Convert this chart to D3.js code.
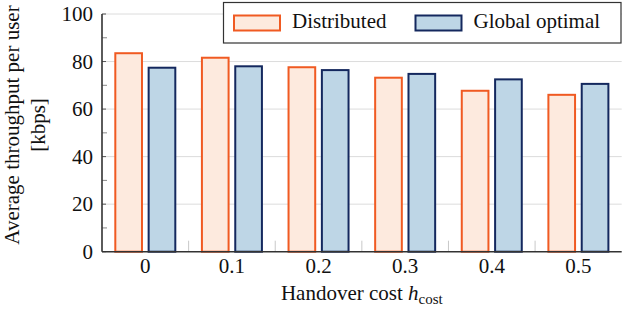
<!DOCTYPE html>
<html>
<head>
<meta charset="utf-8">
<script src="https://cdn.jsdelivr.net/npm/d3@7"></script>
</head>
<body style="margin:0; background:#fff">
<div id="graph"></div>
<script>
var categories = ["0", "0.1", "0.2", "0.3", "0.4", "0.5"],
	seriesNames = ["Distributed", "Global optimal"],
	distributed = [83.5, 81.6, 77.6, 73.2, 67.7, 66.0],
	globalOptimal = [77.4, 78.0, 76.4, 74.8, 72.5, 70.6],
	yTicks = [0, 20, 40, 60, 80, 100],
	yMinorTicks = [10, 30, 50, 70, 90];

var SVGwidth = 640,
	SVGheight = 326,
	margin = {top: 14, right: 18.3, bottom: 74.3, left: 102},
	width = SVGwidth - margin.left - margin.right,
	height = SVGheight - margin.top - margin.bottom;

var colors = {
	"Distributed": {fill: "#fdeade", stroke: "#f05a22"},
	"Global optimal": {fill: "#bed6e6", stroke: "#14285e"}
};

var svg = d3.select('div#graph')
	.append('svg')
	.attr('width', SVGwidth)
	.attr('height', SVGheight);

var g = svg.append("g")
	.attr("transform", "translate(" + margin.left + "," + margin.top + ")");

function label(sel) {
	return sel.attr("font-family", "Liberation Serif")
		.attr("font-size", 21)
		.attr("fill", "#111");
}

var x0 = d3.scaleBand()
		.domain(categories)
		.range([0, width])
		.padding(0),
	x1 = d3.scaleBand()
		.domain(seriesNames)
		.range([-31, 31])
		.paddingInner(0.14),
	y = d3.scaleLinear()
		.domain([0, 100])
		.range([height, 0]);

var rows = categories.map(function (c, i) {
	return {cat: c, values: [
		{name: seriesNames[0], value: distributed[i]},
		{name: seriesNames[1], value: globalOptimal[i]}
	]};
});

// grid
g.append("g")
	.selectAll("line")
	.data(yTicks.slice(1))
	.enter()
	.append("line")
	.attr("x1", 0)
	.attr("x2", width)
	.attr("y1", function (d) { return y(d); })
	.attr("y2", function (d) { return y(d); })
	.attr("stroke", "#dcdcdc")
	.attr("stroke-width", 1);

// minor x ticks between categories
g.append("g")
	.selectAll("line")
	.data(categories.slice(1))
	.enter()
	.append("line")
	.attr("x1", function (d) { return x0(d); })
	.attr("x2", function (d) { return x0(d); })
	.attr("y1", height)
	.attr("y2", height - 11)
	.attr("stroke", "#c8c8c8")
	.attr("stroke-width", 1);

// y ticks, inside
g.append("g")
	.selectAll("line")
	.data(yTicks.concat(yMinorTicks))
	.enter()
	.append("line")
	.attr("x1", 0)
	.attr("x2", function (d) { return d % 20 === 0 ? 4 : 5; })
	.attr("y1", function (d) { return y(d); })
	.attr("y2", function (d) { return y(d); })
	.attr("stroke", function (d) { return d % 20 === 0 ? "#555" : "#888"; })
	.attr("stroke-width", 1);

// bars
var groups = g.append("g")
	.selectAll("g")
	.data(rows)
	.enter()
	.append("g")
	.attr("transform", function (d) { return "translate(" + (x0(d.cat) + x0.bandwidth() / 2) + ",0)"; });

groups.selectAll("rect")
	.data(function (d) { return d.values; })
	.enter()
	.append("rect")
	.attr("x", function (d) { return x1(d.name) + 1; })
	.attr("width", x1.bandwidth() - 2)
	.attr("y", function (d) { return y(d.value); })
	.attr("height", function (d) { return y(0) - y(d.value); })
	.attr("fill", function (d) { return colors[d.name].fill; })
	.attr("stroke", function (d) { return colors[d.name].stroke; })
	.attr("stroke-width", 2);

// axis lines (left, bottom)
g.append("line")
	.attr("x1", 0).attr("x2", 0)
	.attr("y1", 0).attr("y2", height)
	.attr("stroke", "#333").attr("stroke-width", 1.6);
g.append("line")
	.attr("x1", 0).attr("x2", width)
	.attr("y1", height).attr("y2", height)
	.attr("stroke", "#333").attr("stroke-width", 1.6);

// tick labels
g.append("g")
	.selectAll("text")
	.data(yTicks)
	.enter()
	.append("text")
	.call(label)
	.attr("x", -9)
	.attr("y", function (d) { return y(d) + 7; })
	.attr("text-anchor", "end")
	.text(function (d) { return d; });

g.append("g")
	.selectAll("text")
	.data(categories)
	.enter()
	.append("text")
	.call(label)
	.attr("x", function (d) { return x0(d) + x0.bandwidth() / 2; })
	.attr("y", height + 21)
	.attr("text-anchor", "middle")
	.text(function (d) { return d; });

// axis labels
var xl = g.append("text")
	.call(label)
	.attr("x", width / 2)
	.attr("y", height + 48.5)
	.attr("text-anchor", "middle");
xl.append("tspan").text("Handover cost ");
xl.append("tspan").attr("font-style", "italic").text("h");
xl.append("tspan").attr("font-size", 15).attr("dy", 4).text("cost");

var yl = svg.append("text")
	.call(label)
	.attr("transform", "translate(0,125) rotate(-90)")
	.attr("text-anchor", "middle");
yl.append("tspan").attr("x", 0).attr("y", 19).text("Average throughput per user");
yl.append("tspan").attr("x", 0).attr("y", 45).text("[kbps]");

// legend
var legend = svg.append("g")
	.attr("transform", "translate(223.5,2.5)");
legend.append("rect")
	.attr("width", 397.5)
	.attr("height", 40.5)
	.attr("fill", "#fff")
	.attr("stroke", "#333")
	.attr("stroke-width", 1.2);

var legendX = [9.5, 191];
var items = legend.selectAll("g.item")
	.data(seriesNames)
	.enter()
	.append("g")
	.attr("class", "item")
	.attr("transform", function (d, i) { return "translate(" + legendX[i] + ",0)"; });
items.append("rect")
	.attr("x", 1)
	.attr("y", 13)
	.attr("width", 46)
	.attr("height", 15)
	.attr("fill", function (d) { return colors[d].fill; })
	.attr("stroke", function (d) { return colors[d].stroke; })
	.attr("stroke-width", 2);
items.append("text")
	.call(label)
	.attr("x", 59)
	.attr("y", 25)
	.text(function (d) { return d; });
</script>
</body>
</html>
